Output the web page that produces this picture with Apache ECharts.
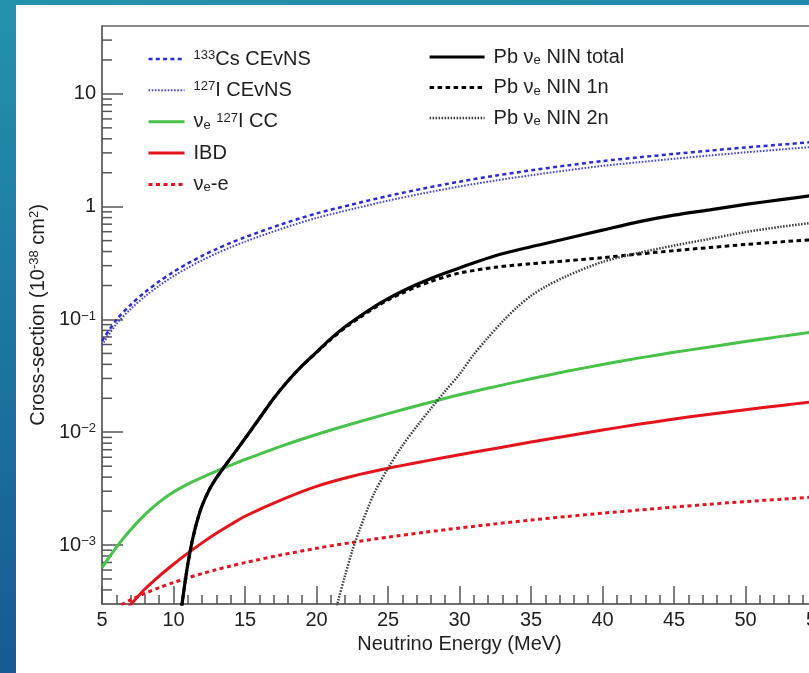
<!DOCTYPE html>
<html>
<head>
<meta charset="utf-8">
<script src="https://cdn.jsdelivr.net/npm/echarts@6/dist/echarts.min.js"></script>
<style>
html,body{margin:0;padding:0;width:809px;height:673px;overflow:hidden;}
body{position:relative;background:linear-gradient(172deg,#2492ad 0%,#1d78a3 40%,#16508d 100%);}
#panel{position:absolute;left:16px;top:5px;right:0;bottom:0;background:#ffffff;}
#chart{position:absolute;left:0;top:0;width:809px;height:673px;}
</style>
</head>
<body>
<div id="panel"></div>
<div id="chart"></div>
<script>
// Neutrino energies (MeV) shared by the CEvNS, CC, IBD and nu-e curves
const energyMain = [5, 6, 7, 8, 9, 10, 11, 12, 13, 14, 15, 17.5, 20, 22.5, 25, 27.5, 30, 32.5, 35, 37.5, 40, 42.5, 45, 47.5, 50, 52.5, 55];

// Cross-sections in units of 1e-38 cm^2
const csCEvNS = [0.0646, 0.0989, 0.1349, 0.1746, 0.2178, 0.2642, 0.3141, 0.3664, 0.4207, 0.4775, 0.5358, 0.695, 0.871, 1.047, 1.245, 1.452, 1.667, 1.884, 2.099, 2.317, 2.541, 2.735, 2.938, 3.141, 3.350, 3.556, 3.767];
const iCEvNS = [0.0594, 0.0908, 0.1238, 0.1600, 0.1994, 0.2418, 0.2873, 0.3350, 0.3845, 0.4365, 0.4895, 0.634, 0.794, 0.952, 1.130, 1.316, 1.510, 1.705, 1.900, 2.097, 2.300, 2.475, 2.659, 2.843, 3.032, 3.218, 3.409];
const iCC = [6.31e-4, 9.55e-4, 1.365e-3, 1.86e-3, 2.40e-3, 2.95e-3, 3.47e-3, 3.98e-3, 4.52e-3, 5.1e-3, 5.73e-3, 7.5e-3, 9.55e-3, 0.01189, 0.01462, 0.01778, 0.02148, 0.0254, 0.02985, 0.0347, 0.0398, 0.0454, 0.0511, 0.0571, 0.0638, 0.0708, 0.0785];
const ibd = [1.38e-4, 2.09e-4, 2.95e-4, 4.07e-4, 5.31e-4, 6.76e-4, 8.47e-4, 1.045e-3, 1.27e-3, 1.52e-3, 1.80e-3, 2.50e-3, 3.31e-3, 4.07e-3, 4.79e-3, 5.52e-3, 6.31e-3, 7.19e-3, 8.18e-3, 9.27e-3, 0.01047, 0.01175, 0.01309, 0.01445, 0.01585, 0.0173, 0.0188];
const nuE = [2.33e-4, 2.79e-4, 3.26e-4, 3.72e-4, 4.19e-4, 4.65e-4, 5.12e-4, 5.58e-4, 6.05e-4, 6.51e-4, 6.98e-4, 8.15e-4, 9.35e-4, 1.055e-3, 1.175e-3, 1.295e-3, 1.415e-3, 1.54e-3, 1.665e-3, 1.79e-3, 1.915e-3, 2.04e-3, 2.17e-3, 2.3e-3, 2.43e-3, 2.55e-3, 2.68e-3];

// Lead neutrino-induced neutron (NIN) curves
const energyPb = [10.5, 10.75, 11, 11.25, 11.5, 11.75, 12, 12.5, 13, 13.5, 14, 15, 16, 17, 18, 19, 20, 21, 22, 23, 24, 25, 26, 27, 28, 29, 30, 32.5, 35, 37.5, 40, 42.5, 45, 47.5, 50, 52.5, 55];
const pbTotal = [2.4e-4, 4.17e-4, 6.76e-4, 1.0e-3, 1.38e-3, 1.8e-3, 2.24e-3, 3.09e-3, 3.94e-3, 4.84e-3, 5.89e-3, 8.8e-3, 0.01324, 0.01995, 0.0285, 0.0389, 0.0513, 0.0676, 0.0861, 0.106, 0.129, 0.153, 0.178, 0.204, 0.231, 0.258, 0.2864, 0.3673, 0.4416, 0.5224, 0.6194, 0.7328, 0.8414, 0.9376, 1.0471, 1.1561, 1.2706];
const pb1n = [2.4e-4, 4.17e-4, 6.76e-4, 1.0e-3, 1.38e-3, 1.8e-3, 2.24e-3, 3.09e-3, 3.94e-3, 4.84e-3, 5.89e-3, 8.8e-3, 0.01324, 0.01995, 0.0285, 0.0389, 0.0508, 0.0665, 0.0845, 0.1035, 0.1255, 0.149, 0.1714, 0.195, 0.2173, 0.2388, 0.2582, 0.2904, 0.3119, 0.3311, 0.3532, 0.3802, 0.4074, 0.4345, 0.4624, 0.4875, 0.5129];
const energyPb2n = [21.3, 21.5, 22, 22.5, 23, 24, 25, 26, 27, 28, 29, 30, 31, 32, 33, 34, 35, 36, 37.5, 40, 42.5, 45, 47.5, 50, 52.5, 55];
const pb2n = [2.4e-4, 3.16e-4, 5.37e-4, 8.91e-4, 1.35e-3, 2.82e-3, 4.79e-3, 7.59e-3, 0.01122, 0.01622, 0.02317, 0.03273, 0.049, 0.0692, 0.0955, 0.1274, 0.1622, 0.195, 0.2427, 0.3236, 0.389, 0.4519, 0.5188, 0.5957, 0.6637, 0.7278];

// Minor ticks of the logarithmic cross-section axis
const yMinorTicks = [4e-4, 5e-4, 6e-4, 7e-4, 8e-4, 9e-4,
  2e-3, 3e-3, 4e-3, 5e-3, 6e-3, 7e-3, 8e-3, 9e-3,
  0.02, 0.03, 0.04, 0.05, 0.06, 0.07, 0.08, 0.09,
  0.2, 0.3, 0.4, 0.5, 0.6, 0.7, 0.8, 0.9,
  2, 3, 4, 5, 6, 7, 8, 9, 20, 30];

const legendLeft = ['Cs133 CEvNS', 'I127 CEvNS', 'nue I127 CC', 'IBD', 'nue-e'];
const legendRight = ['Pb nue NIN total', 'Pb nue NIN 1n', 'Pb nue NIN 2n'];
const legendText = {
  'Cs133 CEvNS': '{sup|133}{b|Cs CEvNS}',
  'I127 CEvNS': '{sup|127}{b|I CEvNS}',
  'nue I127 CC': '{b|\u03bd}{sub|e}{b| }{sup|127}{b|I CC}',
  'IBD': '{b|IBD}',
  'nue-e': '{b|\u03bd}{sub|e}{b|-e}',
  'Pb nue NIN total': '{b|Pb \u03bd}{sub|e}{b| NIN total}',
  'Pb nue NIN 1n': '{b|Pb \u03bd}{sub|e}{b| NIN 1n}',
  'Pb nue NIN 2n': '{b|Pb \u03bd}{sub|e}{b| NIN 2n}'
};

const FONT = '"Liberation Sans", Arial, Helvetica, sans-serif';
const TXT = '#1e1e1e';
const AXIS = '#666666';

const richText = {
  b: { fontSize: 20, lineHeight: 20, color: TXT, fontFamily: FONT },
  sup: { fontSize: 13, lineHeight: 12, verticalAlign: 'top', color: TXT, fontFamily: FONT },
  sub: { fontSize: 13, lineHeight: 12, verticalAlign: 'bottom', color: TXT, fontFamily: FONT }
};

function pairs(xs, ys) {
  return xs.map((e, i) => [e, ys[i]]);
}

function curve(name, xs, ys, color, width, type, z) {
  return {
    name: name,
    type: 'line',
    data: pairs(xs, ys),
    symbol: 'circle',
    showSymbol: false,
    smooth: 0.3,
    clip: true,
    silent: true,
    z: z,
    itemStyle: { color: color },
    lineStyle: { color: color, width: width, type: type, cap: 'butt' }
  };
}

function legendBlock(names, left, top, itemWidth, itemGap) {
  return {
    data: names,
    orient: 'vertical',
    left: left,
    top: top,
    itemWidth: itemWidth,
    itemHeight: 20,
    itemGap: itemGap,
    selectedMode: false,
    padding: 0,
    formatter: n => legendText[n],
    itemStyle: { opacity: 0 },
    lineStyle: { width: 'inherit' },
    textStyle: { fontSize: 20, color: TXT, fontFamily: FONT, padding: [0, 0, 0, 4], rich: richText }
  };
}

function logLabel(v) {
  const l = Math.log10(v);
  const e = Math.round(l);
  if (Math.abs(l - e) > 1e-6) return '';
  if (e === 1) return '{b|10}';
  if (e === 0) return '{b|1}';
  return '{b|10}{sup|' + (e < 0 ? '\u2212' + (-e) : e) + '}';
}

const chart = echarts.init(document.getElementById('chart'), null, { renderer: 'canvas' });

chart.setOption({
  backgroundColor: 'transparent',
  animation: false,
  grid: {
    left: 102, top: 26, right: -8, bottom: 69,
    containLabel: false,
    outerBoundsMode: 'none',
    show: true, borderColor: AXIS, borderWidth: 1.5, backgroundColor: 'transparent'
  },
  legend: [
    legendBlock(legendLeft, 147, 49, 36, 11.35),
    legendBlock(legendRight, 428, 47, 55, 10.5)
  ],
  xAxis: {
    type: 'value',
    min: 5, max: 55, interval: 5,
    name: 'Neutrino Energy (MeV)',
    nameLocation: 'middle',
    nameGap: 27,
    nameTextStyle: { fontSize: 20, color: TXT, fontFamily: FONT },
    axisLine: { lineStyle: { color: AXIS, width: 1.5 } },
    axisTick: { inside: true, length: 18, lineStyle: { color: '#555', width: 1.5 } },
    minorTick: { show: true, splitNumber: 5, length: 9, lineStyle: { color: '#555', width: 1.5 } },
    axisLabel: { fontSize: 20, color: TXT, fontFamily: FONT, margin: 6 },
    splitLine: { show: false },
    minorSplitLine: { show: false }
  },
  yAxis: {
    type: 'log',
    logBase: 10,
    min: 3e-4, max: 40,
    name: '{t|Cross-section (10}{s|-38}{t| cm}{s|2}{t|)}',
    nameLocation: 'middle',
    nameGap: 47,
    nameTextStyle: {
      fontSize: 20, color: TXT, fontFamily: FONT,
      rich: {
        t: { fontSize: 20, lineHeight: 20, color: TXT, fontFamily: FONT },
        s: { fontSize: 13, lineHeight: 12, verticalAlign: 'top', color: TXT, fontFamily: FONT }
      }
    },
    axisLine: { show: true, lineStyle: { color: AXIS, width: 1.5 } },
    axisTick: { inside: true, length: 21, lineStyle: { color: '#555', width: 1.5 } },
    axisLabel: {
      fontSize: 20, color: TXT, fontFamily: FONT, margin: 6,
      showMinLabel: false, showMaxLabel: false,
      formatter: logLabel,
      rich: richText
    },
    splitLine: { show: false }
  },
  series: [
    curve('Cs133 CEvNS', energyMain, csCEvNS, '#2b2bd6', 2.5, [4, 3.3], 5),
    curve('I127 CEvNS', energyMain, iCEvNS, '#4343e0', 2, [1.6, 1.6], 4),
    curve('nue I127 CC', energyMain, iCC, '#48c248', 3, 'solid', 4),
    curve('IBD', energyMain, ibd, '#e5141c', 3, 'solid', 4),
    curve('nue-e', energyMain, nuE, '#e5141c', 3, [4, 3.5], 4),
    curve('Pb nue NIN total', energyPb, pbTotal, '#000000', 3.2, 'solid', 6),
    curve('Pb nue NIN 1n', energyPb, pb1n, '#000000', 3, [4.5, 3.5], 5),
    curve('Pb nue NIN 2n', energyPb2n, pb2n, '#3a3a3a', 2.5, [1.5, 1.5], 5),
    {
      type: 'custom',
      name: 'y minor ticks',
      silent: true,
      clip: false,
      z: 3,
      data: yMinorTicks.map(v => [5, v]),
      renderItem: function (params, api) {
        const p = api.coord([api.value(0), api.value(1)]);
        return {
          type: 'line',
          shape: { x1: p[0], y1: p[1], x2: p[0] + 10, y2: p[1] },
          style: { stroke: '#555', lineWidth: 1.5 }
        };
      }
    }
  ]
});
</script>
</body>
</html>
